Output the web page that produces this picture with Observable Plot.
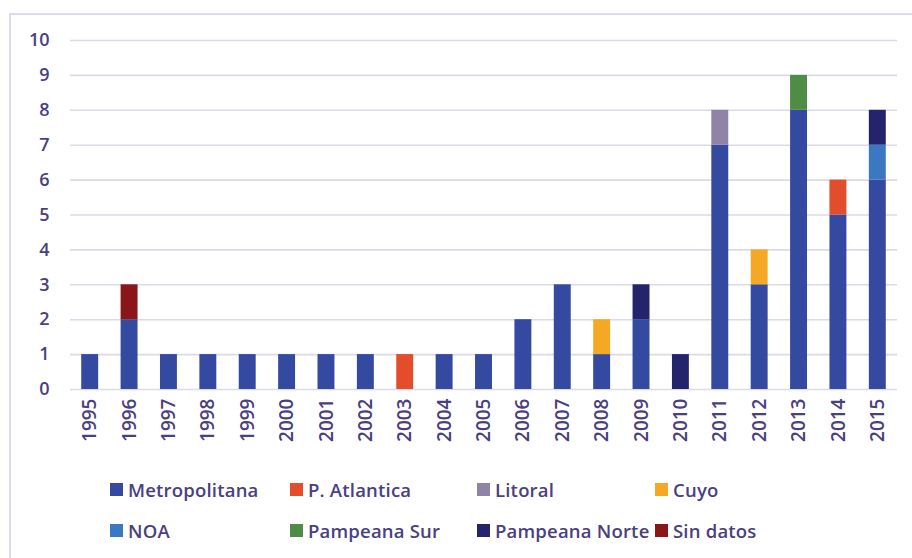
<!DOCTYPE html>
<html>
<head>
<meta charset="utf-8">
<script src="https://cdn.jsdelivr.net/npm/d3@7"></script>
<script src="https://cdn.jsdelivr.net/npm/@observablehq/plot@0.6"></script>
<style>
  html, body { margin: 0; padding: 0; background: #fff; }
  body { width: 912px; height: 558px; position: relative; overflow: hidden; font-family: "Open Sans", sans-serif; }
  #frame { position: absolute; left: 9px; top: 13px; width: 930px; height: 570px; border: 2px solid #dedbea; box-sizing: border-box; }
  #chart { position: absolute; left: 0; top: 0; }
  #legend { position: absolute; left: 110px; top: 476px; display: grid; grid-template-columns: 180px 187px 178px 120px; row-gap: 15px; }
  .item { display: flex; align-items: center; font-size: 18.5px; font-weight: 600; color: #4a4080; height: 26px; white-space: nowrap; letter-spacing: 0.2px; }
  .sw { width: 13px; height: 13px; margin-right: 5px; flex: none; }
</style>
</head>
<body>
<div id="frame"></div>
<div id="chart"></div>
<div id="legend"></div>
<script>
const years = ["1995","1996","1997","1998","1999","2000","2001","2002","2003","2004","2005","2006","2007","2008","2009","2010","2011","2012","2013","2014","2015"];
const seriesNames = ["Metropolitana","P. Atlantica","Litoral","Cuyo","NOA","Pampeana Sur","Pampeana Norte","Sin datos"];
const seriesColors = ["#344aa0","#e34d2c","#8f83a6","#f5a823","#3b78c2","#4f8c46","#23246c","#8a1619"];
const metropolitana = [1,2,1,1,1,1,1,1,0,1,1,2,3,1,2,0,7,3,8,5,6];
const pAtlantica    = [0,0,0,0,0,0,0,0,1,0,0,0,0,0,0,0,0,0,0,1,0];
const litoral       = [0,0,0,0,0,0,0,0,0,0,0,0,0,0,0,0,1,0,0,0,0];
const cuyo          = [0,0,0,0,0,0,0,0,0,0,0,0,0,1,0,0,0,1,0,0,0];
const noa           = [0,0,0,0,0,0,0,0,0,0,0,0,0,0,0,0,0,0,0,0,1];
const pampeanaSur   = [0,0,0,0,0,0,0,0,0,0,0,0,0,0,0,0,0,0,1,0,0];
const pampeanaNorte = [0,0,0,0,0,0,0,0,0,0,0,0,0,0,1,1,0,0,0,0,1];
const sinDatos      = [0,1,0,0,0,0,0,0,0,0,0,0,0,0,0,0,0,0,0,0,0];
const yTicks = [0,1,2,3,4,5,6,7,8,9,10];

const seriesValues = [metropolitana, pAtlantica, litoral, cuyo, noa, pampeanaSur, pampeanaNorte, sinDatos];
const rows = [];
seriesNames.forEach((s, i) => {
  years.forEach((y, j) => {
    const v = seriesValues[i][j];
    if (v > 0) rows.push({year: y, series: s, value: v});
  });
});

const textColor = "#4a4080";
const chart = Plot.plot({
  width: 912,
  height: 465,
  marginLeft: 70,
  marginRight: 15,
  marginTop: 40,
  marginBottom: 76,
  style: {fontFamily: "Open Sans, sans-serif", fontSize: "18px", fontWeight: 600, color: textColor, background: "transparent"},
  x: {type: "band", domain: years, paddingInner: 0.57, paddingOuter: 0.285, round: false, label: null},
  y: {domain: [0, 10], label: null},
  color: {domain: seriesNames, range: seriesColors},
  marks: [
    Plot.ruleY(yTicks, {stroke: "#dcd9ea", strokeWidth: 1.6}),
    Plot.barY(rows, {x: "year", y: "value", fill: "series", order: seriesNames}),
    Plot.axisY(yTicks, {tickSize: 0, tickPadding: 21, fontSize: 18, fill: textColor}),
    Plot.axisX({tickSize: 0, tickPadding: 9, tickRotate: -90, fontSize: 19, fill: textColor})
  ]
});
document.getElementById("chart").appendChild(chart);

const legend = document.getElementById("legend");
seriesNames.forEach((s, i) => {
  const d = document.createElement("div");
  d.className = "item";
  const sw = document.createElement("span");
  sw.className = "sw";
  sw.style.background = seriesColors[i];
  d.appendChild(sw);
  d.appendChild(document.createTextNode(s));
  legend.appendChild(d);
});
</script>
</body>
</html>
